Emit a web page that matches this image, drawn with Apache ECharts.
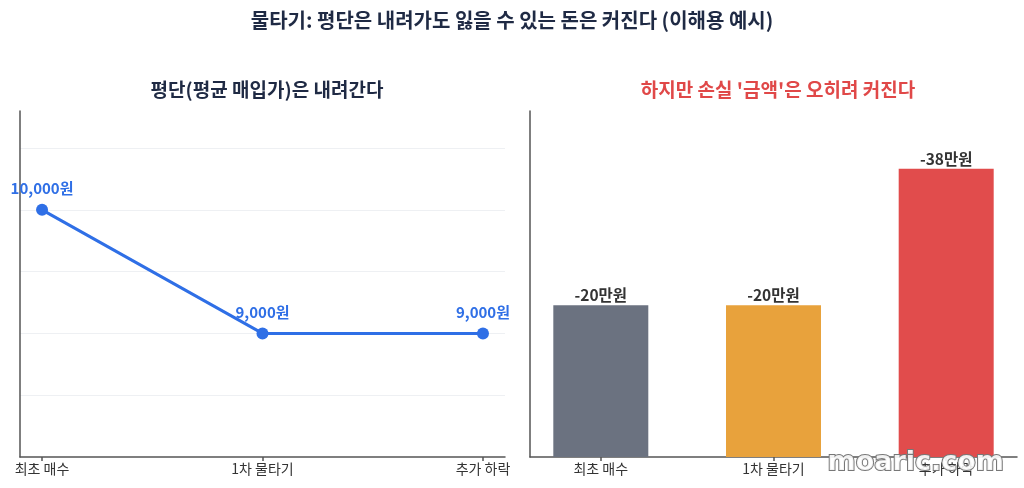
<!DOCTYPE html>
<html>
<head>
<meta charset="utf-8">
<script src="https://cdn.jsdelivr.net/npm/echarts@6/dist/echarts.min.js"></script>
<style>html,body{margin:0;padding:0;background:#fff}#c{width:1024px;height:488px}</style>
</head>
<body>
<div id="c"></div>
<script>
const categories = ['최초 매수', '1차 물타기', '추가 하락'];
const avgPrices = [10000, 9000, 9000];
const lossAmounts = [20, 20, 38];
const barColors = ['#6b7280', '#e8a23c', '#e14c4c'];
const mainTitle = '물타기: 평단은 내려가도 잃을 수 있는 돈은 커진다 (이해용 예시)';
const leftTitle = '평단(평균 매입가)은 내려간다';
const rightTitle = "하지만 손실 '금액'은 오히려 커진다";

const FONT = '"Noto Sans CJK KR", "Noto Sans", sans-serif';
const idx = categories.map((_, i) => i);
const chart = echarts.init(document.getElementById('c'));
const axisLineStyle = { color: '#555', width: 1.5 };

chart.setOption({
  animation: false,
  textStyle: { fontFamily: FONT },
  title: [
    { text: mainTitle, left: 'center', top: 5, textStyle: { fontSize: 20, fontWeight: 'bold', color: '#1f2a44', fontFamily: FONT } },
    { text: leftTitle, left: 262, textAlign: 'center', top: 75, textStyle: { fontSize: 19, fontWeight: 'bold', color: '#1f2a44', fontFamily: FONT } },
    { text: rightTitle, left: 773, textAlign: 'center', top: 75, textStyle: { fontSize: 19, fontWeight: 'bold', color: '#e04848', fontFamily: FONT } }
  ],
  grid: [
    { left: 20, right: 519, top: 111, bottom: 31 },
    { left: 530, right: 7, top: 111, bottom: 31 }
  ],
  xAxis: [
    {
      gridIndex: 0, type: 'value', min: -0.1, max: 2.1,
      axisLine: { show: true, onZero: false, lineStyle: axisLineStyle },
      axisTick: { show: true, length: 4, customValues: idx, lineStyle: axisLineStyle },
      axisLabel: { customValues: idx, formatter: v => categories[Math.round(v)], color: '#333', fontSize: 14, margin: 5, fontFamily: FONT },
      splitLine: { show: false }
    },
    {
      gridIndex: 1, type: 'value', min: -0.41, max: 2.41,
      axisLine: { show: true, onZero: false, lineStyle: axisLineStyle },
      axisTick: { show: true, length: 4, customValues: idx, lineStyle: axisLineStyle },
      axisLabel: { customValues: idx, formatter: v => categories[Math.round(v)], color: '#333', fontSize: 14, margin: 5, fontFamily: FONT },
      splitLine: { show: false }
    }
  ],
  yAxis: [
    {
      gridIndex: 0, type: 'value', min: 8000, max: 10800, interval: 500,
      axisLine: { show: true, onZero: false, lineStyle: axisLineStyle },
      axisTick: { show: false }, axisLabel: { show: false },
      splitLine: { show: true, showMaxLine: false, showMinLine: false, lineStyle: { color: '#eef0f3', width: 1 } }
    },
    {
      gridIndex: 1, type: 'value', min: 0, max: 45.6,
      axisLine: { show: true, onZero: false, lineStyle: axisLineStyle },
      axisTick: { show: false }, axisLabel: { show: false },
      splitLine: { show: false }
    }
  ],
  series: [
    {
      type: 'line', xAxisIndex: 0, yAxisIndex: 0,
      data: avgPrices.map((v, i) => [i, v]),
      symbol: 'circle', symbolSize: 12,
      lineStyle: { color: '#2f6fe6', width: 3 },
      itemStyle: { color: '#2f6fe6' },
      label: {
        show: true, position: 'top', distance: 8,
        formatter: p => p.value[1].toLocaleString('en-US') + '원',
        color: '#2f6fe6', fontWeight: 'bold', fontSize: 15, fontFamily: FONT
      },
      z: 3
    },
    {
      type: 'bar', xAxisIndex: 1, yAxisIndex: 1,
      barWidth: 95,
      data: lossAmounts.map((v, i) => ({ value: [i, v], itemStyle: { color: barColors[i] } })),
      label: {
        show: true, position: 'top', distance: 2,
        formatter: p => '-' + p.value[1] + '만원',
        color: '#333', fontWeight: 'bold', fontSize: 15.5, fontFamily: FONT
      }
    }
  ],
  graphic: [
    {
      type: 'text', right: 19, bottom: 11, z: 100,
      style: {
        text: 'moaric.com', fontSize: 27, fontWeight: 'bold', fontFamily: '"DejaVu Sans", sans-serif',
        fill: 'rgba(255,255,255,0.9)', stroke: '#777', lineWidth: 2
      }
    }
  ]
});
</script>
</body>
</html>
